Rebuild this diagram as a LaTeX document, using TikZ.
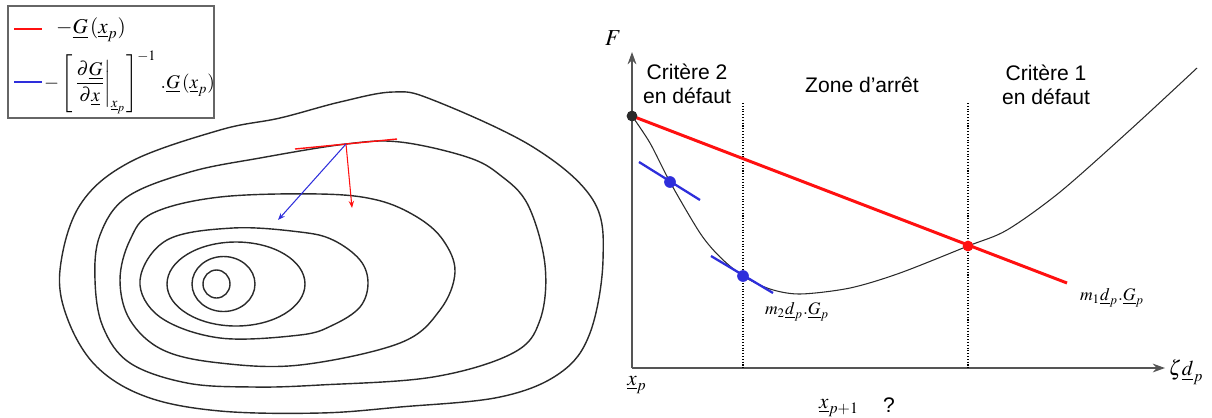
\documentclass[tikz,border=0pt]{standalone}
\usepackage{mathptmx}
\usepackage{fontspec}
\setmainfont{Liberation Serif}
\setsansfont{Liberation Sans}
\usetikzlibrary{arrows.meta,calc}
\definecolor{ptred}{HTML}{FF1010}
\definecolor{ptblue}{HTML}{2E2EDB}
\definecolor{inkgray}{HTML}{2A2A2A}
\definecolor{axisgray}{HTML}{555555}
\definecolor{framegray}{HTML}{666666}

\begin{document}
\begin{tikzpicture}[x=0.02cm,y=-0.02cm,
  every node/.style={font=\fontsize{12}{13.5}\selectfont},
  lbl/.style={font=\sffamily\fontsize{12}{13.5}\selectfont,align=center},
  smalllbl/.style={font=\fontsize{10}{12}\selectfont},
  contour/.style={line width=0.8pt,inkgray},
  axis/.style={line width=0.8pt,axisgray,-{Stealth[length=7pt,width=5pt]}},
  limit/.style={densely dotted,line width=0.6pt,black},
  curve/.style={line width=0.6pt,inkgray},
  redline/.style={line width=1.7pt,ptred},
  tangent/.style={line width=1.3pt,ptblue},
  vec/.style={line width=0.6pt,-{Stealth[length=4pt,width=3pt]}},
  blackdot/.style={circle,fill=inkgray,inner sep=0pt,minimum size=6pt},
  bluedot/.style={circle,fill=ptblue,inner sep=0pt,minimum size=6.5pt},
  reddot/.style={circle,fill=ptred,inner sep=0pt,minimum size=6pt}]
\useasboundingbox (0,0) rectangle (1212,417);

% legend
\draw[framegray,line width=0.8pt] (8,6) rectangle (214,118);
\draw[ptred,line width=0.6pt] (14,29) -- (42,29);
\node[anchor=west] (leg1) at (50,30) {$-\underline{G}\,(\underline{x}_p)$};
\draw[ptblue,line width=0.6pt] (14,82) -- (42,82);
\node[anchor=west,inner sep=1pt,font=\fontsize{11}{13}\selectfont] (leg2) at (42,82)
  {$\displaystyle -\left[\left.\frac{\partial\underline{G}}{\partial\underline{x}}\right|_{\underline{x}_p}\right]^{-1}\,.\underline{G}\,(\underline{x}_p)$};

% iso-contours
\foreach \cx/\rx/\ry in {216.5/13.5/14, 223.5/31.5/27.5, 236/69/42}
  \draw[contour] (\cx,284) ellipse [x radius=\rx, y radius=\ry];
\draw[contour] plot[smooth cycle,tension=0.6] coordinates {(140,280) (160,317) (220,338)
  (300,335) (333,325) (360,307) (368,283) (360,260) (333,240) (300,232) (233,228) (167,240)};
\draw[contour] plot[smooth cycle,tension=0.6] coordinates {(120,280) (130,320) (163,350)
  (220,363) (300,365) (400,343) (440,310) (455,272) (443,240) (417,217) (377,200)
  (320,194) (220,197) (153,213) (130,240)};
\draw[contour] plot[smooth cycle,tension=0.6] coordinates {(95,280) (103,327) (130,363)
  (187,383) (253,387) (320,385) (433,377) (513,353) (540,320) (545,265) (528,205)
  (500,175) (467,157) (400,142) (346,144) (260,158) (190,172) (127,197) (100,235)};
\draw[contour] plot[smooth cycle,tension=0.6] coordinates {(60,270) (68,320) (97,367)
  (147,397) (220,411) (320,413) (400,407) (500,397) (560,373) (590,333) (603,260)
  (593,200) (533,147) (433,100) (393,92) (340,102) (280,118) (220,130) (130,162) (80,205)};

% descent directions at x_p
\coordinate (P) at (346,144);
\coordinate (gradend) at (352,208);
\coordinate (newtend) at (278,220);
\draw[ptred,line width=0.8pt] ($(P)+(-51,5)$) -- ($(P)+(51,-5)$);
\draw[vec,ptred] (P) -- (gradend);
\draw[vec,ptblue] (P) -- (newtend);

% line search
\coordinate (O) at (632,368);
\coordinate (xtip) at (1165,368);
\coordinate (ytip) at (632,52);
\draw[axis] (O) -- (xtip);
\draw[axis] (O) -- (ytip);
\node[font=\fontsize{13}{15}\selectfont] (F) at (613,38) {$F$};
\node (zd) at (1186,372) {$\zeta\underline{d}_p$};
\node (xp) at (637,385) {$\underline{x}_p$};
\node (xp1) at (839,408) {$\underline{x}_{p+1}$};
\node[lbl] (quest) at (889,405) {?};

\coordinate (lim2) at (743,103);
\coordinate (lim1) at (968,103);
\draw[limit] (lim2) -- (lim2 |- O);
\draw[limit] (lim1) -- (lim1 |- O);

\node[lbl] (crit2) at (687,84) {Critère 2\\en défaut};
\node[lbl] (zone) at (862,85) {Zone d’arrêt};
\node[lbl] (crit1) at (1046,85) {Critère 1\\en défaut};

\draw[curve] plot[smooth] coordinates {(632,116) (650,143) (670,182) (700,233) (720,257)
  (743,276) (770,289) (800,294) (850,288) (900,273) (968,246) (1007,230) (1060,192)
  (1130,130) (1197,68)};

\node[blackdot] (x0) at (632,116) {};
\node[bluedot] (b1) at (670,182) {};
\node[bluedot] (b2) at (743,276) {};
\node[reddot] (r1) at (968,246) {};
\coordinate (m1end) at (1067,283);

\draw[redline] (x0.center) -- (m1end);
\draw[tangent] ($(b1)+(-31,-20)$) -- ($(b1)+(30,18)$);
\draw[tangent] ($(b2)+(-32,-20)$) -- ($(b2)+(30,17)$);
\node[blackdot] at (x0) {};
\node[bluedot] at (b1) {};
\node[bluedot] at (b2) {};
\node[reddot] at (r1) {};

\node[smalllbl] (m2) at (797,312) {$m_2\underline{d}_p.\underline{G}_p$};
\node[smalllbl] (m1) at (1112,298) {$m_1\underline{d}_p.\underline{G}_p$};
\end{tikzpicture}
\end{document}
